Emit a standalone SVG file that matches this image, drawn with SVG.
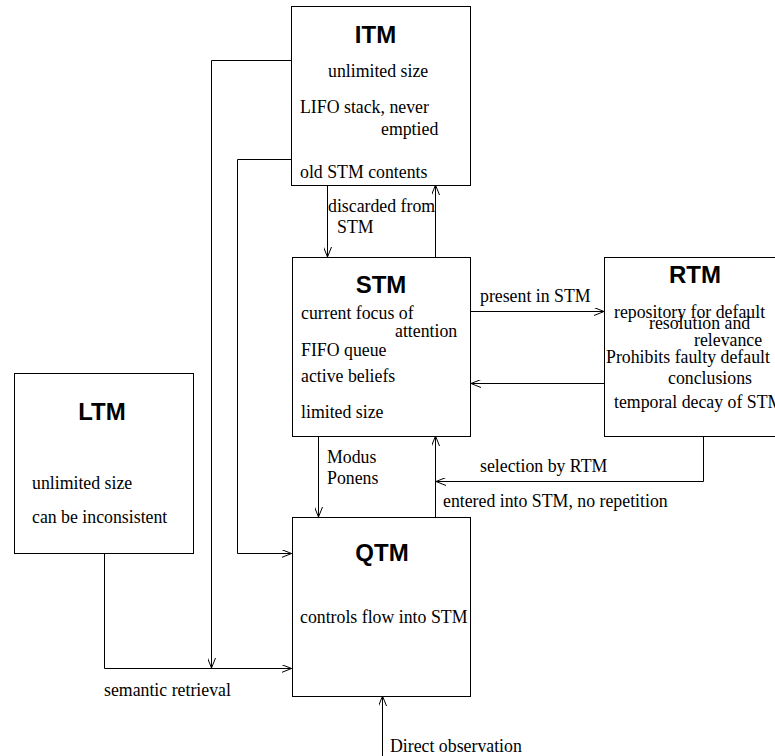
<svg xmlns="http://www.w3.org/2000/svg" width="775" height="756" viewBox="0 0 775 756">
<style>
.box{fill:#fff;stroke:#000;stroke-width:1}
.t{font-family:"Liberation Serif","Times New Roman",serif;font-size:17.8px;fill:#000}
.h{font-family:"Liberation Sans",Arial,sans-serif;font-size:24px;font-weight:bold;fill:#000;text-anchor:middle}
.c{fill:none;stroke:#000;stroke-width:1}
</style>
<defs>
<marker id="arr" viewBox="0 0 10 8" refX="10" refY="4" markerWidth="10" markerHeight="8" markerUnits="userSpaceOnUse" orient="auto">
<path d="M0,0 L10,4 L0,8" fill="none" stroke="#000" stroke-width="1"/>
</marker>
</defs>
<rect width="775" height="756" fill="#fff"/>
<g id="connectors">
<path class="c" d="M291.5,60.5 H211.5 V668" marker-end="url(#arr)"/>
<path class="c" d="M104.5,553 V668.5 H291.5" marker-end="url(#arr)"/>
<path class="c" d="M291.5,159.5 H237.5 V553.5 H291.5" marker-end="url(#arr)"/>
<path class="c" d="M327.5,185 V257" marker-end="url(#arr)"/>
<path class="c" d="M435.5,257 V185" marker-end="url(#arr)"/>
<path class="c" d="M471,311.5 H604" marker-end="url(#arr)"/>
<path class="c" d="M604,383.5 H471" marker-end="url(#arr)"/>
<path class="c" d="M318.5,436 V517" marker-end="url(#arr)"/>
<path class="c" d="M435.5,517 V436" marker-end="url(#arr)"/>
<path class="c" d="M703.5,436 V481.5 H436" marker-end="url(#arr)"/>
<path class="c" d="M382.5,756 V696" marker-end="url(#arr)"/>
<text class="t" x="328" y="212">discarded from</text>
<text class="t" x="337" y="233">STM</text>
<text class="t" x="480" y="302">present in STM</text>
<text class="t" x="327" y="463">Modus</text>
<text class="t" x="327" y="484">Ponens</text>
<text class="t" x="480" y="472">selection by RTM</text>
<text class="t" x="443" y="507">entered into STM, no repetition</text>
<text class="t" x="104" y="696">semantic retrieval</text>
<text class="t" x="390" y="752">Direct observation</text>
</g>
<g id="ITM">
<rect class="box" x="291.5" y="6.5" width="179" height="179"/>
<text class="h" x="375.5" y="43">ITM</text>
<text class="t" x="328" y="77">unlimited size</text>
<text class="t" x="300" y="113">LIFO stack, never</text>
<text class="t" x="381" y="135">emptied</text>
<text class="t" x="300" y="178">old STM contents</text>
</g>
<g id="STM">
<rect class="box" x="292.5" y="257.5" width="178" height="179"/>
<text class="h" x="381" y="293">STM</text>
<text class="t" x="301" y="319">current focus of</text>
<text class="t" x="395" y="337">attention</text>
<text class="t" x="301" y="356">FIFO queue</text>
<text class="t" x="301" y="382">active beliefs</text>
<text class="t" x="301" y="418">limited size</text>
</g>
<g id="RTM">
<rect class="box" x="604.5" y="257.5" width="190" height="179"/>
<text class="h" x="695" y="283">RTM</text>
<text class="t" x="614" y="318">repository for default</text>
<text class="t" x="649" y="329">resolution and</text>
<text class="t" x="694" y="346">relevance</text>
<text class="t" x="606" y="363">Prohibits faulty default</text>
<text class="t" x="668" y="384">conclusions</text>
<text class="t" x="614" y="408">temporal decay of STM</text>
</g>
<g id="LTM">
<rect class="box" x="14.5" y="373.5" width="179" height="180"/>
<text class="h" x="102" y="420">LTM</text>
<text class="t" x="32" y="489">unlimited size</text>
<text class="t" x="32" y="523">can be inconsistent</text>
</g>
<g id="QTM">
<rect class="box" x="292.5" y="517.5" width="178" height="179"/>
<text class="h" x="382" y="561">QTM</text>
<text class="t" x="300" y="623">controls flow into STM</text>
</g>
</svg>
